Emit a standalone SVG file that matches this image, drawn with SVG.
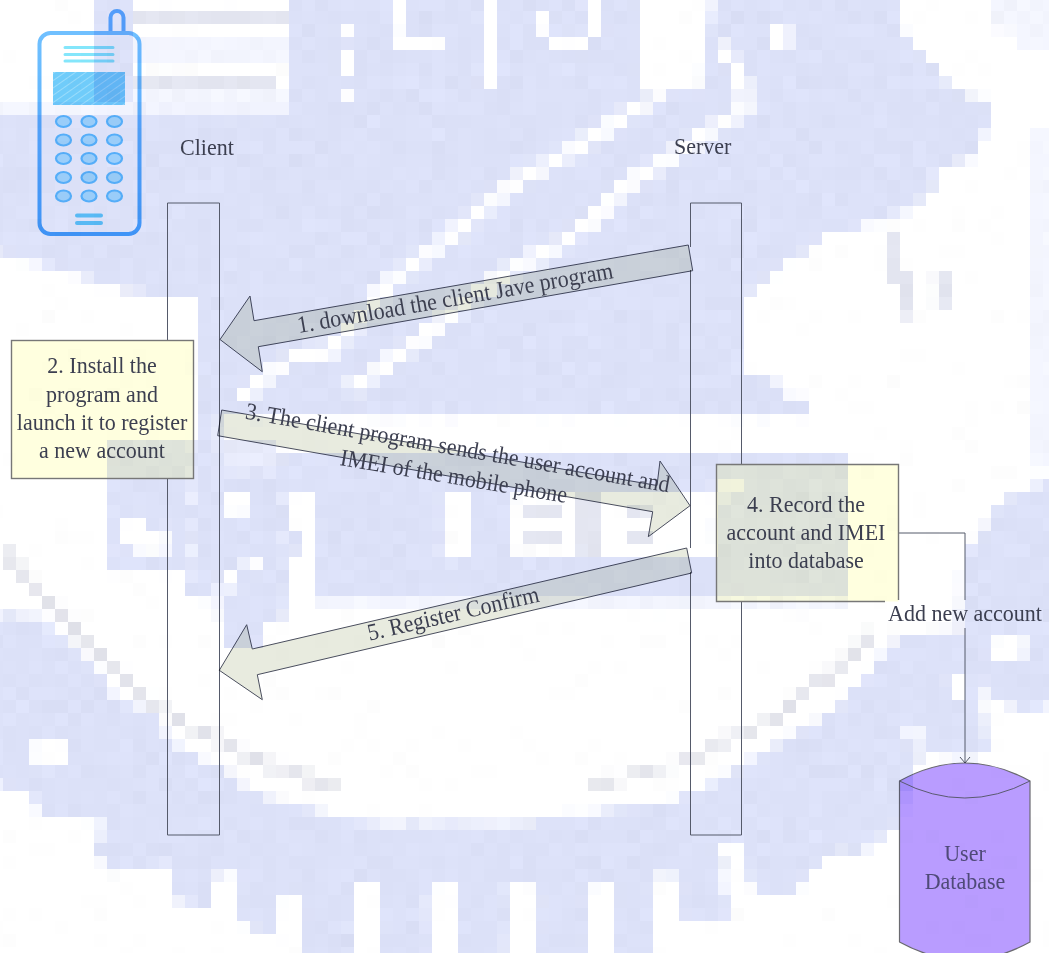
<svg xmlns="http://www.w3.org/2000/svg" width="1049" height="953" viewBox="0 0 1049 953">
<style>
.m{mix-blend-mode:multiply}
.b{fill:#dbe0f7}
.w{fill:#fff}
.p{fill:#f2f4fd}
.g{fill:#e2e4ef}
.wl{fill:none;stroke:#fff;stroke-width:14}
.gl{fill:none;stroke:#dfe0e8;stroke-width:9}
.line{fill:none;stroke:#555a6a;stroke-width:1}
.box{fill:#ffffdf}
.boxe{fill:none;stroke:#777;stroke-width:1.4}
.arrow{fill:#e8ebdf;stroke:#4a4e5e;stroke-width:1}
.t{font-family:"Liberation Serif","Times New Roman",serif;font-size:24px;fill:#3c3f50;text-anchor:middle}
.ts{text-anchor:start}
.key{fill:#b2e8ff;stroke:#62c4ff;stroke-width:2.200}
.sp{stroke:#84e6fb;stroke-width:3;stroke-linecap:round}
.sb{stroke:#66d2fb;stroke-width:4;stroke-linecap:round}
</style>
<defs>
<filter id="mosaic" filterUnits="userSpaceOnUse" x="-10" y="-2" width="1070" height="970" color-interpolation-filters="sRGB">
<feTurbulence type="fractalNoise" baseFrequency="0.09" numOctaves="2" seed="7" result="n0"/>
<feColorMatrix in="n0" type="matrix" values="1 0 0 0 0  1 0 0 0 0  1 0 0 0 0  0 0 0 0 1" result="n"/>
<feDisplacementMap in="SourceGraphic" in2="n0" scale="12" xChannelSelector="R" yChannelSelector="G" result="d"/>
<feGaussianBlur in="d" stdDeviation="2.500" result="bl"/>
<feComposite in="bl" in2="n" operator="arithmetic" k1="0" k2="1" k3="0.05" k4="-0.02" result="b"/>
<feFlood x="-4" y="4" width="1" height="1" flood-color="#000"/>
<feComposite x="-10" y="-2" width="13" height="13"/>
<feTile result="t"/>
<feComposite in="b" in2="t" operator="in"/>
<feMorphology operator="dilate" radius="6"/>
</filter>
<pattern id="hatch" patternUnits="userSpaceOnUse" width="6" height="6" patternTransform="rotate(-35)">
<rect width="6" height="6" fill="#70ccfa"/>
<rect width="6" height="1" fill="#9adcfb"/>
</pattern>
<linearGradient id="body" x1="0" y1="0" x2="0" y2="1">
<stop offset="0" stop-color="#70c0ff"/>
<stop offset="1" stop-color="#48a6fb"/>
</linearGradient>
<marker id="open" markerUnits="userSpaceOnUse" markerWidth="14" markerHeight="12" refX="12" refY="6" orient="auto">
<path d="M6 1 L12 6 L6 11" fill="none" stroke="#555a6a"/>
</marker>
</defs>

<g id="watermark" filter="url(#mosaic)">
<rect x="-30" y="-30" width="1110" height="1010" fill="#fff"/>
<path class="b" d="M-30 115H94V-30H133V102H289V-30H640V90H700L717 -30H900V25L913 47 937 65 945 85 990 102V128L975 155 940 167 930 195 885 220 834 235 807 247 782 267 757 287 745 300V375L770 377 784 390 809 402V415H219V600H197V297H165L110 286 65 272 -30 247Z"/>
<rect class="p" x="-30" y="102" width="319" height="13" fill-opacity=".9"/>
<rect class="g" x="133" y="11" width="156" height="13"/>
<rect class="p" x="133" y="37" width="156" height="26"/>
<rect class="g" x="133" y="76" width="143" height="13"/>
<rect class="p" x="133" y="89" width="156" height="13"/>
<rect class="w" x="133" y="24" width="156" height="13"/>
<rect class="w" x="133" y="63" width="156" height="13"/>
<path class="w" d="M393 -30H405V37H445V50H393Z"/>
<rect class="w" x="483" y="-30" width="13" height="118"/>
<rect class="w" x="340" y="24" width="13" height="13"/>
<rect class="w" x="340" y="50" width="13" height="26"/>
<rect class="w" x="340" y="89" width="13" height="13"/>
<rect class="w" x="537" y="11" width="13" height="26"/>
<rect class="w" x="550" y="37" width="37" height="13"/>
<rect class="w" x="587" y="-30" width="13" height="67"/>
<rect class="w" x="770" y="24" width="20" height="26"/>
<polyline class="wl" points="664,90 644,103 614,123 580,147 524,177 497,197 447,240 393,280 333,350 293,357 240,397"/>
<polyline class="wl" points="690,143 657,167 624,187 600,213 564,240 480,290 420,340 350,390"/>
<polyline class="wl" points="690,143 720,125 745,110 742,80 722,45"/>
<path class="b" d="M315 453H848V597H172V570H108V440H195V597H219V473H287V620H263V648H223V620H219V473H280V453Z"/>
<rect class="b" x="220" y="440" width="60" height="33" fill-opacity=".7"/>
<rect class="p" x="315" y="597" width="533" height="13"/>
<rect class="w" x="443" y="493" width="27" height="65"/>
<rect class="w" x="510" y="493" width="206" height="63"/>
<rect class="g" x="524" y="506" width="38" height="13"/>
<rect class="g" x="524" y="532" width="38" height="13"/>
<rect class="g" x="576" y="493" width="24" height="63"/>
<rect class="g" x="627" y="506" width="23" height="13"/>
<rect class="g" x="627" y="532" width="23" height="13"/>
<rect class="p" x="716" y="480" width="26" height="16"/>
<rect class="w" x="120" y="519" width="25" height="26"/>
<rect class="w" x="137" y="530" width="30" height="25"/>
<rect class="w" x="172" y="570" width="14" height="27"/>
<rect class="w" x="223" y="493" width="27" height="20"/>
<rect class="w" x="243" y="560" width="20" height="10"/>
<rect class="w" x="220" y="570" width="20" height="20"/>
<rect class="w" x="287" y="493" width="28" height="104"/>
<rect class="b" x="290" y="530" width="12" height="24"/>
<path class="b" d="M-30 613L43 616 67 640 100 673 120 700 157 713 167 740 220 766 253 793 300 806 367 823H524L557 816 667 803 707 786 741 766 800 730 840 703 874 666 900 636 957 630 964 560 1000 500 1080 470V700L1024 712 990 700 974 673 990 750 964 760 924 750 914 766 900 820 874 843 857 856 834 846 807 880 790 896H757L744 863 720 846 730 920H680V873H654V980H302V893L280 896 277 936 237 923 240 873H217L210 910 173 900 170 863 147 870H107L93 846 107 826 80 816 43 820 30 793 -30 780Z"/>
<rect class="w" x="353" y="883" width="27" height="100"/>
<rect class="w" x="430" y="883" width="27" height="100"/>
<rect class="w" x="507" y="883" width="30" height="100"/>
<rect class="w" x="587" y="883" width="27" height="100"/>
<rect class="w" x="33" y="740" width="34" height="26"/>
<rect class="w" x="717" y="846" width="27" height="14"/>
<rect class="w" x="907" y="730" width="17" height="16"/>
<rect class="w" x="990" y="636" width="34" height="24"/>
<rect class="w" x="950" y="673" width="14" height="27"/>
<polyline class="gl" points="3,550 20,573 37,590 50,603 67,620 83,640 103,656 117,670 130,683 140,696 160,706 177,720 193,730 207,733 257,760 333,786"/>
<polyline class="gl" points="590,786 690,760 741,733 777,720 790,706 814,686 840,666 857,650 870,633"/>
<rect class="p" x="1031" y="130" width="50" height="340"/>
<rect class="p" x="1018" y="-30" width="60" height="80"/>
<rect class="p" x="990" y="-30" width="28" height="60"/>
<rect class="g" x="887" y="233" width="13" height="52"/>
<rect class="g" x="900" y="272" width="13" height="48"/>
<rect class="g" x="935" y="272" width="15" height="38"/>
</g>

<g id="connectors">
<path class="line" d="M899 533H965V600"/>
<path class="line" d="M965 628V763" marker-end="url(#open)"/>
</g>

<g id="client-lifeline"><path class="line" d="M167.500 340V203H219.500V835H167.500V478"/></g>
<g id="server-lifeline"><path class="line" d="M690.500 247V203H741.500V464M741.500 602V835H690.500V572M690.500 548V270"/></g>

<g id="phone" class="m">
<path d="M110.500 33V17.500a6.500 6.500 0 0 1 13 0V33" fill="none" stroke="#5fb0ff" stroke-width="4"/>
<rect x="39.500" y="33" width="100" height="201" rx="11" fill="none" stroke="url(#body)" stroke-width="4"/>
<path class="sp" d="M65 47.500H113M65 54.500H113M65 61H113"/>
<rect x="53" y="72" width="72" height="33" fill="url(#hatch)"/>
<ellipse class="key" cx="63.500" cy="121.500" rx="7.500" ry="5.500"/><ellipse class="key" cx="89" cy="121.500" rx="7.500" ry="5.500"/><ellipse class="key" cx="114.500" cy="121.500" rx="7.500" ry="5.500"/>
<ellipse class="key" cx="63.500" cy="140" rx="7.500" ry="5.500"/><ellipse class="key" cx="89" cy="140" rx="7.500" ry="5.500"/><ellipse class="key" cx="114.500" cy="140" rx="7.500" ry="5.500"/>
<ellipse class="key" cx="63.500" cy="158.500" rx="7.500" ry="5.500"/><ellipse class="key" cx="89" cy="158.500" rx="7.500" ry="5.500"/><ellipse class="key" cx="114.500" cy="158.500" rx="7.500" ry="5.500"/>
<ellipse class="key" cx="63.500" cy="177.500" rx="7.500" ry="5.500"/><ellipse class="key" cx="89" cy="177.500" rx="7.500" ry="5.500"/><ellipse class="key" cx="114.500" cy="177.500" rx="7.500" ry="5.500"/>
<ellipse class="key" cx="63.500" cy="196" rx="7.500" ry="5.500"/><ellipse class="key" cx="89" cy="196" rx="7.500" ry="5.500"/><ellipse class="key" cx="114.500" cy="196" rx="7.500" ry="5.500"/>
<path class="sb" d="M77 215.500H101M77 223H101"/>
</g>
<text class="t ts" transform="translate(180 155) scale(.917 1)">Client</text>
<text class="t ts" transform="translate(674 154) scale(.917 1)">Server</text>

<g id="arrow-1">
<polygon class="arrow m" points="220,339.500 250,296 254,320.700 688.300,245 692.700,270.700 258.300,346.700 262.300,371.700"/>
<text class="t" transform="translate(456.500 305.500) rotate(-9.900) scale(.917 1)">1. download the client Jave program</text>
</g>

<g id="box-2">
<rect class="box m" x="11.500" y="340.500" width="182" height="138"/>
<rect class="boxe" x="11.500" y="340.500" width="182" height="138"/>
<text class="t" transform="translate(102 373) scale(.917 1)">2. Install the</text>
<text class="t" transform="translate(102 401.500) scale(.917 1)">program and</text>
<text class="t" transform="translate(102 430) scale(.917 1)">launch it to register</text>
<text class="t" transform="translate(102 457.500) scale(.917 1)">a new account</text>
</g>

<g id="arrow-3">
<polygon class="arrow m" points="690,505.700 648.300,536.700 652.700,511.700 217.700,435.700 221.700,410 657,485.500 660,461"/>
<text class="t" transform="translate(456.500 455.500) rotate(9.900) scale(.917 1)">3. The client program sends the user account and</text>
<text class="t" transform="translate(452.500 484) rotate(9.500) scale(.917 1)">IMEI of the mobile phone</text>
</g>

<g id="box-4">
<rect class="box m" x="716.500" y="464.500" width="182" height="137"/>
<path class="boxe" d="M885 601.500H716.500V464.500H898.500V600"/>
<text class="t" transform="translate(806 511.500) scale(.917 1)">4. Record the</text>
<text class="t" transform="translate(806 540) scale(.917 1)">account and IMEI</text>
<text class="t" transform="translate(806 568) scale(.917 1)">into database</text>
</g>

<g id="arrow-5">
<polygon class="arrow m" points="219.300,670.300 246.700,624.700 252.300,649 686.700,548 691.700,573 257.300,674.700 262.300,699.700"/>
<text class="t" transform="translate(455 621) rotate(-13) scale(.917 1)">5. Register Confirm</text>
</g>

<g id="add-label">
<text class="t" transform="translate(965 620.500) scale(.917 1)">Add new account</text>
</g>

<g id="database">
<path class="m" d="M899.500 781Q965 745 1030 781V942Q965 978 899.500 942Z" fill="#b99cff" stroke="#6a6a70" stroke-width="1.200"/>
<path d="M899.500 781Q965 815 1030 781" fill="none" stroke="#5a5a70" stroke-width="1"/>
<text class="t" transform="translate(965 860.500) scale(.917 1)" style="fill:#4f4a78">User</text>
<text class="t" transform="translate(965 888.500) scale(.917 1)" style="fill:#4f4a78">Database</text>
</g>
</svg>
